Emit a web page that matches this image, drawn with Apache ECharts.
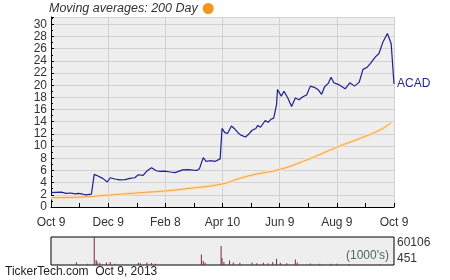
<!DOCTYPE html>
<html><head><meta charset="utf-8">
<script src="https://cdn.jsdelivr.net/npm/echarts@6/dist/echarts.min.js"></script>
<style>html,body{margin:0;padding:0;background:#fff}#c{width:450px;height:280px}</style>
</head><body><div id="c"></div>
<script>
// days since Oct 9, 2012
var xLabels = ['Oct 9','Dec 9','Feb 8','Apr 10','Jun 9','Aug 9','Oct 9'];
var priceDay = [0,5,11,16,21,26,29,34,37,39,43,45,46,50,55,60,63,68,73,79,84,89,93,95,98,102,107,112,116,121,127,132,135,140,146,151,155,158,162,165,169,175,180,182,185,188,192,195,199,202,207,210,214,218,220,223,228,231,234,237,240,241,245,248,252,256,260,264,268,272,276,281,284,288,291,295,298,301,306,313,318,323,328,332,336,340,345,349,353,358,360,362,365];
var priceClose = [2.35,2.4,2.45,2.25,2.3,2.15,2.25,2.1,2.0,2.05,2.1,2.1,5.35,5.1,4.7,4.1,4.8,4.6,4.45,4.5,4.7,4.8,5.3,5.6,5.2,5.9,6.45,5.95,5.85,5.9,5.75,5.65,5.8,6.1,6.15,6.05,6.0,6.3,8.1,7.5,7.6,7.5,7.9,12.9,12.2,12.1,13.3,12.9,12.2,11.8,11.5,11.9,12.6,12.9,13.4,13.1,14.2,13.9,14.4,14.6,16.8,19.3,18.2,19.0,17.9,16.5,17.9,17.6,18.1,18.4,19.85,19.6,19.3,18.5,19.7,20.3,21.3,20.4,20.1,19.4,20.4,19.85,20.5,22.6,22.9,23.6,24.6,25.2,27.0,28.5,28.2,26.8,20.2];
var maDay = [0,24,59,95,121,148,182,201,219,244,272,304,329,350,362];
var maValue = [1.53,1.59,1.92,2.35,2.63,3.07,3.78,4.71,5.42,6.19,7.72,9.8,11.28,12.64,13.84];
var volDay = [7,27,39,46,48,49,52,59,63,68,93,95,102,107,111,160,162,164,181,182,184,190,194,201,214,219,226,231,236,240,244,251,260,262,276,286,298,304,317,350];
var volValue = [2000,6500,3000,60106,11000,8000,5000,6000,7000,3000,5000,4000,6000,4500,3000,23000,9000,5000,41000,15000,7000,10000,6000,5000,6000,4000,5000,4000,7000,14000,5000,4000,12000,6000,3500,3000,3000,3000,2500,2500];
var volMin = 451, volMax = 60106;

function zip(a,b){return a.map(function(v,i){return [v,b[i]];});}
var chart = echarts.init(document.getElementById('c'));
var F = 'Liberation Sans, Arial, sans-serif';
chart.setOption({
  animation:false,
  legend:{show:true,left:49,top:2,padding:0,align:'right',icon:'circle',itemWidth:11,itemHeight:11,itemGap:4,
    data:[{name:'Moving averages: 200 Day'}],
    textStyle:{fontFamily:F,fontSize:12.5,fontStyle:'italic',color:'#333'}},
  grid:[
    {left:51,right:56,top:17,bottom:73,show:true,backgroundColor:'#eeeeee',borderWidth:0},
    {left:51,right:56,top:237,height:28,show:true,backgroundColor:'#eeeeee',borderColor:'#000',borderWidth:1}
  ],
  xAxis:[
    {type:'value',gridIndex:0,min:0,max:365,interval:365/6,
     axisLine:{show:true,lineStyle:{color:'#000',width:1}},
     axisTick:{show:true,inside:true,length:4,lineStyle:{color:'#000'}},
     minorTick:{show:true,splitNumber:2,length:4,lineStyle:{color:'#000'}},
     splitLine:{show:true,lineStyle:{color:'#d2d2d2',width:1}},
     axisLabel:{margin:10,fontFamily:F,fontSize:12,color:'#333',
       formatter:function(v){return xLabels[Math.round(v/(365/6))]||'';}}},
    {type:'value',gridIndex:1,min:0,max:365,show:false}
  ],
  yAxis:[
    {type:'value',gridIndex:0,min:0,max:31.2,interval:2,
     axisLine:{show:true,lineStyle:{color:'#000',width:1}},
     axisTick:{show:true,inside:true,length:3,lineStyle:{color:'#000'}},
     minorTick:{show:true,splitNumber:2,length:2,lineStyle:{color:'#000'}},
     splitLine:{show:true,lineStyle:{color:'#d2d2d2',width:1}},
     axisLabel:{margin:4,fontFamily:F,fontSize:12,color:'#333',showMaxLabel:false,
       formatter:function(v){return (Math.abs(v-Math.round(v))<0.01 && Math.round(v)%2===0)?String(Math.round(v)):'';}}},
    {type:'value',gridIndex:1,min:volMin,max:volMax,position:'right',
     axisLine:{show:false},axisTick:{show:false},splitLine:{show:false},
     axisLabel:{show:true,customValues:[volMin,volMax],margin:3,fontFamily:F,fontSize:12,color:'#333',
       verticalAlignMinLabel:'bottom',verticalAlignMaxLabel:'top',
       formatter:function(v){return String(Math.round(v));}}}
  ],
  series:[
    {name:'maHalo',type:'line',xAxisIndex:0,yAxisIndex:0,data:zip(maDay,maValue),smooth:true,showSymbol:false,
     lineStyle:{color:'#fde3c2',width:3.5},silent:true,z:2},
    {name:'Moving averages: 200 Day',type:'line',xAxisIndex:0,yAxisIndex:0,data:zip(maDay,maValue),smooth:true,showSymbol:false,
     itemStyle:{color:'#f7941d'},lineStyle:{color:'#f0a040',width:1},z:3},
    {name:'ACAD',type:'line',xAxisIndex:0,yAxisIndex:0,data:zip(priceDay,priceClose),showSymbol:false,
     lineStyle:{color:'#1f1f8f',width:1.2},z:4,
     endLabel:{show:true,formatter:'ACAD',distance:3,fontFamily:F,fontSize:12,color:'#1f1f8f'}},
    {name:'vol',type:'bar',xAxisIndex:1,yAxisIndex:1,data:zip(volDay,volValue),barWidth:1,
     itemStyle:{color:'#7a2a4c'},z:3}
  ],
  graphic:[
    {type:'text',right:61,top:250,style:{text:"(1000's)",font:'12px '+F,fill:'#4a6a5a'},z:10},
    {type:'text',left:5,top:266,style:{text:'TickerTech.com  Oct 9, 2013',font:'12px '+F,fill:'#222'},z:10}
  ]
});
</script></body></html>
